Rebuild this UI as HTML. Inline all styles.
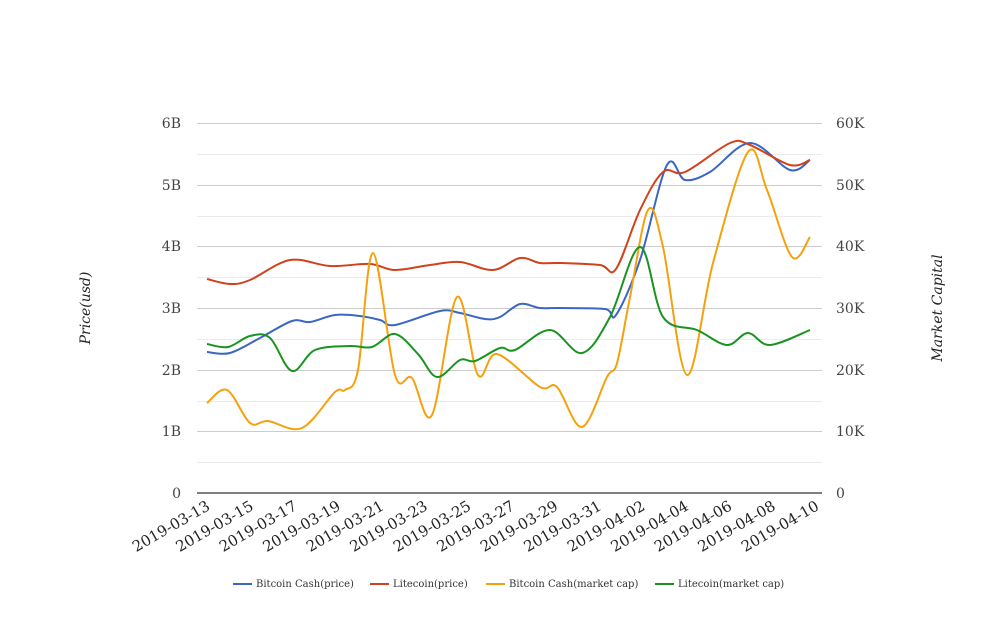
<!DOCTYPE html>
<html><head><meta charset="utf-8"><style>
body{margin:0;background:#fff;width:1008px;height:616px;overflow:hidden}
svg{font-family:"DejaVu Serif","Liberation Serif",serif}
</style></head><body>
<svg id="s" width="1008" height="616" viewBox="0 0 1008 616">
<g stroke="#ccc" stroke-width="1">
<line x1="197" x2="822" y1="123.5" y2="123.5"/><line x1="197" x2="822" y1="185.5" y2="185.5"/>
<line x1="197" x2="822" y1="246.5" y2="246.5"/><line x1="197" x2="822" y1="308.5" y2="308.5"/>
<line x1="197" x2="822" y1="370.5" y2="370.5"/><line x1="197" x2="822" y1="431.5" y2="431.5"/>
</g>
<g stroke="#ebebeb" stroke-width="1">
<line x1="197" x2="822" y1="154.5" y2="154.5"/><line x1="197" x2="822" y1="216.5" y2="216.5"/>
<line x1="197" x2="822" y1="277.5" y2="277.5"/><line x1="197" x2="822" y1="339.5" y2="339.5"/>
<line x1="197" x2="822" y1="401.5" y2="401.5"/><line x1="197" x2="822" y1="462.5" y2="462.5"/>
</g>
<line x1="197" x2="822" y1="493" y2="493" stroke="#333" stroke-width="1.2"/>
<g font-size="14" fill="#444" text-anchor="end">
<text x="181" y="128">6B</text><text x="181" y="190">5B</text><text x="181" y="251">4B</text>
<text x="181" y="313">3B</text><text x="181" y="375">2B</text><text x="181" y="436">1B</text><text x="181" y="498">0</text>
</g>
<g font-size="14" fill="#444">
<text x="836" y="128">60K</text><text x="836" y="190">50K</text><text x="836" y="251">40K</text>
<text x="836" y="313">30K</text><text x="836" y="375">20K</text><text x="836" y="436">10K</text><text x="836" y="498">0</text>
</g>
<text transform="translate(90,308) rotate(-90)" text-anchor="middle" font-size="14" font-style="italic" fill="#222">Price(usd)</text>
<text transform="translate(942,308) rotate(-90)" text-anchor="middle" font-size="14" font-style="italic" fill="#222">Market Capital</text>
<g id="xl" font-size="15" fill="#222" text-anchor="end"></g>
<g id="lines" fill="none" stroke-width="2"></g>
<g font-size="10" fill="#333">
<line x1="233" x2="252" y1="584" y2="584" stroke="#3a66c4" stroke-width="2"/><text x="256" y="587">Bitcoin Cash(price)</text>
<line x1="370" x2="389" y1="584" y2="584" stroke="#d0421b" stroke-width="2"/><text x="393" y="587">Litecoin(price)</text>
<line x1="486" x2="505" y1="584" y2="584" stroke="#f5a10f" stroke-width="2"/><text x="509" y="587">Bitcoin Cash(market cap)</text>
<line x1="655" x2="674" y1="584" y2="584" stroke="#1a9420" stroke-width="2"/><text x="678" y="587">Litecoin(market cap)</text>
</g>
</svg>
<script>
var ns="http://www.w3.org/2000/svg";
var dates=["2019-03-13","2019-03-15","2019-03-17","2019-03-19","2019-03-21","2019-03-23","2019-03-25","2019-03-27","2019-03-29","2019-03-31","2019-04-02","2019-04-04","2019-04-06","2019-04-08","2019-04-10"];
var xl=document.getElementById("xl");
dates.forEach(function(d,k){var x=211+43.5*k;var t=document.createElementNS(ns,"text");
t.setAttribute("transform","translate("+x+",509) rotate(-30)");t.textContent=d;xl.appendChild(t);});
var S={
"#d0421b":[[207,279],[230,284],[250,280],[290,260],[330,266],[370,264],[395,270],[430,265],[460,262],[493,270],[520,258],[540,263],[560,263],[600,265],[616,269],[640,210],[663,172],[685,172],[730,143],[750,145],[790,165],[810,160]],
"#3a66c4":[[207,352],[230,353],[260,338],[292,321],[310,322],[335,315],[360,316],[380,320],[395,325],[440,311],[460,313],[485,319],[500,317],[520,304],[540,308],[560,308],[605,309],[616,315],[640,260],[667,165],[685,180],[710,172],[750,143],[790,170],[810,160]],
"#f5a10f":[[207,403],[227,390],[250,423],[268,421],[302,428],[335,392],[345,390],[358,370],[373,253],[395,375],[412,378],[432,415],[457,297],[478,375],[497,354],[540,387],[557,387],[582,427],[607,377],[617,363],[630,297],[648,210],[663,247],[687,375],[713,263],[748,152],[767,190],[792,257],[810,237]],
"#1a9420":[[207,344],[228,347],[250,336],[270,338],[292,371],[315,350],[350,346],[372,347],[395,334],[418,354],[437,377],[460,360],[475,361],[500,348],[515,350],[550,330],[582,353],[610,317],[640,247],[663,317],[697,330],[727,345],[748,333],[770,345],[810,330]]};
var g=document.getElementById("lines");
["#3a66c4","#d0421b","#f5a10f","#1a9420"].forEach(function(c){var p=S[c];var d="M"+p[0][0]+","+p[0][1];
for(var i=0;i<p.length-1;i++){var p0=p[i>0?i-1:0],p1=p[i],p2=p[i+1],p3=p[i+2<p.length?i+2:i+1];
d+=" C"+(p1[0]+(p2[0]-p0[0])/6)+","+(p1[1]+(p2[1]-p0[1])/6)+" "+(p2[0]-(p3[0]-p1[0])/6)+","+(p2[1]-(p3[1]-p1[1])/6)+" "+p2[0]+","+p2[1];}
var e=document.createElementNS(ns,"path");e.setAttribute("d",d);e.setAttribute("stroke",c);g.appendChild(e);});
</script>
</body></html>
